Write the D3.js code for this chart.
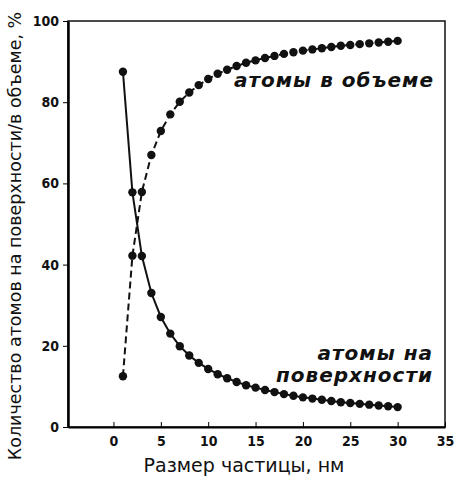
<!DOCTYPE html>
<html>
<head>
<meta charset="utf-8">
<title>Атомы на поверхности / в объеме</title>
<script src="https://cdn.jsdelivr.net/npm/d3@7/dist/d3.min.js" charset="utf-8"></script>
<style type="text/css">
	body { margin: 0; background: #fff; }
	.tick text { font-family: "DejaVu Sans Condensed", "DejaVu Sans", sans-serif; font-weight: bold; font-size: 14px; fill: #111; }
	.curve { fill: none; stroke: #111; stroke-width: 2px; }
	.dot { fill: #111; }
	.note { font-family: "DejaVu Sans", sans-serif; font-weight: bold; font-style: italic; font-size: 20px; letter-spacing: 1px; fill: #111; }
	.title { font-family: "DejaVu Sans", sans-serif; fill: #111; }
</style>
</head>
<body>
<script type="text/javascript">

// размер частицы, нм
var size = [1, 2, 3, 4, 5, 6, 7, 8, 9, 10, 11, 12, 13, 14, 15,
            16, 17, 18, 19, 20, 21, 22, 23, 24, 25, 26, 27, 28, 29, 30];
// доля атомов на поверхности, %
var surface = [87.5, 57.8, 42.1, 33.0, 27.1, 23.0, 19.9, 17.6, 15.8, 14.3, 13.0, 12.0, 11.1, 10.3, 9.7,
               9.1, 8.6, 8.1, 7.7, 7.3, 7.0, 6.7, 6.4, 6.1, 5.9, 5.7, 5.5, 5.3, 5.1, 4.9];
// доля атомов в объеме, %
var volume = [12.5, 42.2, 57.9, 67.0, 72.9, 77.0, 80.1, 82.4, 84.2, 85.7, 87.0, 88.0, 88.9, 89.7, 90.3,
              90.9, 91.4, 91.9, 92.3, 92.7, 93.0, 93.3, 93.6, 93.9, 94.1, 94.3, 94.5, 94.7, 94.9, 95.1];
var xTicks = [0, 5, 10, 15, 20, 25, 30, 35];
var yTicks = [0, 20, 40, 60, 80, 100];

var width = 455,
    height = 477;
var mLeft = 68, mRight = 445, mTop = 21, mBottom = 427;

var svg = d3.select("body").append("svg").attr("width", width).attr("height", height);

var x = d3.scaleLinear().domain([-4.8, 35]).range([mLeft, mRight]);
var y = d3.scaleLinear().domain([0, 100]).range([mBottom, mTop]);

// рамка
svg.append("rect")
  .attr("x", mLeft).attr("y", mTop)
  .attr("width", mRight - mLeft).attr("height", mBottom - mTop)
  .attr("fill", "none").attr("stroke", "#111").attr("stroke-width", 1.5);

svg.append("g")
  .attr("transform", "translate(0," + mBottom + ")")
  .call(d3.axisBottom(x).tickValues(xTicks).tickSizeInner(-5).tickSizeOuter(0).tickPadding(9))
  .call(function(g) { g.select(".domain").attr("stroke-width", 2); });

svg.append("g")
  .attr("transform", "translate(" + mLeft + ",0)")
  .call(d3.axisLeft(y).tickValues(yTicks).tickSizeInner(5).tickSizeOuter(0).tickPadding(4))
  .call(function(g) { g.select(".domain").attr("stroke-width", 2.5); });

var line = d3.line()
  .x(function(d, i) { return x(size[i]); })
  .y(function(d) { return y(d); });

svg.append("path").datum(surface).attr("class", "curve").attr("d", line);
svg.append("path").datum(volume).attr("class", "curve")
  .attr("stroke-dasharray", "7,4").attr("d", line);

[surface, volume].forEach(function(series) {
  svg.append("g").selectAll("circle")
    .data(series).enter()
    .append("circle")
    .attr("class", "dot")
    .attr("cx", function(d, i) { return x(size[i]); })
    .attr("cy", function(d) { return y(d); })
    .attr("r", 4.2);
});

svg.append("text").attr("class", "note")
  .attr("x", 434).attr("y", 87).attr("text-anchor", "end")
  .text("атомы в объеме");
svg.append("text").attr("class", "note")
  .attr("x", 433).attr("y", 360).attr("text-anchor", "end")
  .text("атомы на");
svg.append("text").attr("class", "note")
  .attr("x", 433).attr("y", 382).attr("text-anchor", "end")
  .text("поверхности");

svg.append("text").attr("class", "title")
  .attr("x", 244).attr("y", 472).attr("text-anchor", "middle")
  .style("font-size", "19px")
  .text("Размер частицы, нм");

svg.append("text").attr("class", "title")
  .attr("transform", "translate(21," + 236 + ") rotate(-90)")
  .attr("text-anchor", "middle")
  .style("font-size", "17.5px")
  .text("Количество атомов на поверхности/в объеме, %");

</script>
</body>
</html>
